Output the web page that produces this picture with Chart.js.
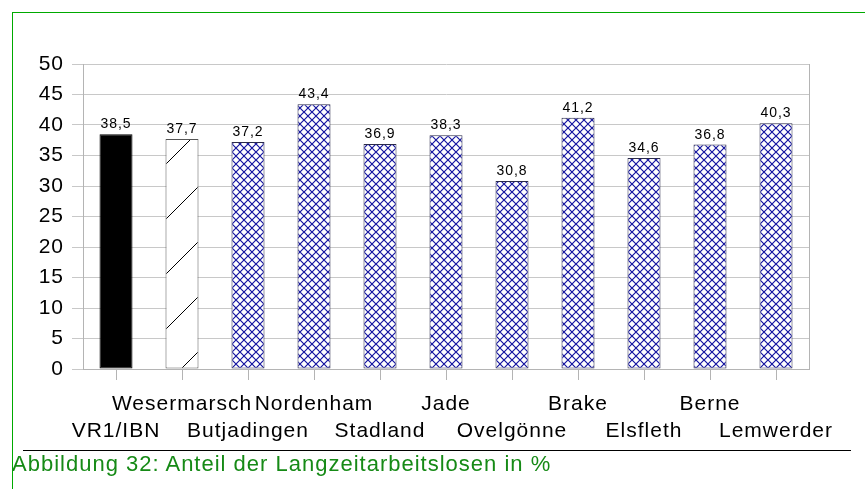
<!DOCTYPE html>
<html>
<head>
<meta charset="utf-8">
<script src="https://cdn.jsdelivr.net/npm/chart.js@4"></script>
<style>
  body { margin: 0; background: #fff; font-family: "Liberation Sans", Arial, sans-serif; }
  #wrap { position: relative; width: 865px; height: 489px; overflow: hidden; }
  #chart { position: absolute; left: 0; top: 0; }
  .gtop { position: absolute; left: 12px; top: 12px; width: 853px; height: 1px; background: #00aa00; }
  .gleft { position: absolute; left: 12px; top: 12px; width: 1px; height: 477px; background: #00aa00; }
  .rule { position: absolute; left: 23px; top: 450px; width: 828px; height: 1px; background: #000; }
  .caption { position: absolute; left: 12px; top: 453px; font-size: 22px; line-height: 22px;
             letter-spacing: 1px; color: #168a16; white-space: nowrap; }
</style>
</head>
<body>
<div id="wrap">
  <canvas id="chart" width="865" height="489"></canvas>
  <div class="gtop"></div>
  <div class="gleft"></div>
  <div class="rule"></div>
  <div class="caption">Abbildung 32: Anteil der Langzeitarbeitslosen in %</div>
</div>
<script>
const categories = ["VR1/IBN", "Wesermarsch", "Butjadingen", "Nordenham", "Stadland", "Jade",
  "Ovelgönne", "Brake", "Elsfleth", "Berne", "Lemwerder"];
const values = [38.5, 37.7, 37.2, 43.4, 36.9, 38.3, 30.8, 41.2, 34.6, 36.8, 40.3];
const yTicks = [0, 5, 10, 15, 20, 25, 30, 35, 40, 45, 50];

// staggered labels: odd ones on the first row, even ones on the second
const xLabels = categories.map((c, i) => i % 2 ? [c, ""] : ["", c]);

const FONT = '"Liberation Sans", Arial, sans-serif';

function crossHatch() {
  const s = 8;
  const c = document.createElement('canvas');
  c.width = s; c.height = s;
  const g = c.getContext('2d');
  g.fillStyle = '#fff';
  g.fillRect(0, 0, s, s);
  g.strokeStyle = '#1414a0';
  g.lineWidth = 1.2;
  g.beginPath();
  g.moveTo(-1, -1); g.lineTo(s + 1, s + 1);
  g.moveTo(-1, s + 1); g.lineTo(s + 1, -1);
  g.stroke();
  return g.createPattern(c, 'repeat');
}

function sparseDiagonal() {
  const s = 55;
  const c = document.createElement('canvas');
  c.width = s; c.height = s;
  const g = c.getContext('2d');
  g.fillStyle = '#fff';
  g.fillRect(0, 0, s, s);
  g.strokeStyle = '#000';
  g.lineWidth = 1;
  g.beginPath();
  g.moveTo(0, s); g.lineTo(s, 0);
  g.stroke();
  return g.createPattern(c, 'repeat');
}

const hatch = crossHatch();
const fills = values.map((v, i) => i === 0 ? '#000' : i === 1 ? sparseDiagonal() : hatch);
const borders = values.map((v, i) => i === 0 ? '#000' : i === 1 ? '#555' : '#2a2a4a');

const spacing = {
  id: 'spacing',
  beforeInit(chart) { chart.ctx.letterSpacing = '1px'; },
  beforeUpdate(chart) { chart.ctx.letterSpacing = '1px'; },
  beforeDraw(chart) { chart.ctx.letterSpacing = '1px'; }
};

const frame = {
  id: 'frame',
  beforeDatasetsDraw(chart) {
    const { ctx, chartArea } = chart;
    ctx.save();
    ctx.strokeStyle = '#b4b4b4';
    ctx.lineWidth = 1;
    ctx.beginPath();
    ctx.moveTo(Math.round(chartArea.right) + 0.5, chartArea.top);
    ctx.lineTo(Math.round(chartArea.right) + 0.5, chartArea.bottom);
    ctx.stroke();
    ctx.restore();
  }
};

const valueLabels = {
  id: 'valueLabels',
  afterDatasetsDraw(chart) {
    const { ctx } = chart;
    const meta = chart.getDatasetMeta(0);
    ctx.save();
    ctx.font = '14px ' + FONT;
    ctx.fillStyle = '#000';
    ctx.textAlign = 'center';
    ctx.textBaseline = 'alphabetic';
    meta.data.forEach((bar, i) => {
      ctx.fillText(values[i].toFixed(1).replace('.', ','), bar.x, bar.y - 6);
    });
    ctx.restore();
  }
};

new Chart(document.getElementById('chart'), {
  type: 'bar',
  data: {
    labels: xLabels,
    datasets: [{
      data: values,
      backgroundColor: fills,
      borderColor: borders,
      borderWidth: 1,
      borderSkipped: false,
      barPercentage: 0.5,
      categoryPercentage: 1.0
    }]
  },
  options: {
    responsive: false,
    animation: false,
    layout: { padding: { top: 64, left: 0, right: 56, bottom: 20 } },
    plugins: {
      legend: { display: false },
      tooltip: { enabled: false }
    },
    scales: {
      x: {
        grid: { offset: false, drawOnChartArea: false, drawTicks: true, tickLength: 11, color: '#b4b4b4' },
        border: { color: '#b4b4b4' },
        ticks: {
          color: '#000',
          autoSkip: false,
          maxRotation: 0,
          padding: 11,
          font: { family: FONT, size: 21, lineHeight: 27 / 21 }
        },
        afterFit(scale) { scale.height = 100; }
      },
      y: {
        min: 0,
        max: 50,
        afterBuildTicks(scale) { scale.ticks = yTicks.map(v => ({ value: v })); },
        grid: { color: '#c8c8c8', tickLength: 11 },
        border: { color: '#b4b4b4' },
        ticks: {
          color: '#000',
          padding: 8,
          font: { family: FONT, size: 21 }
        },
        afterFit(scale) { scale.width = 83; }
      }
    }
  },
  plugins: [spacing, frame, valueLabels]
});
</script>
</body>
</html>
